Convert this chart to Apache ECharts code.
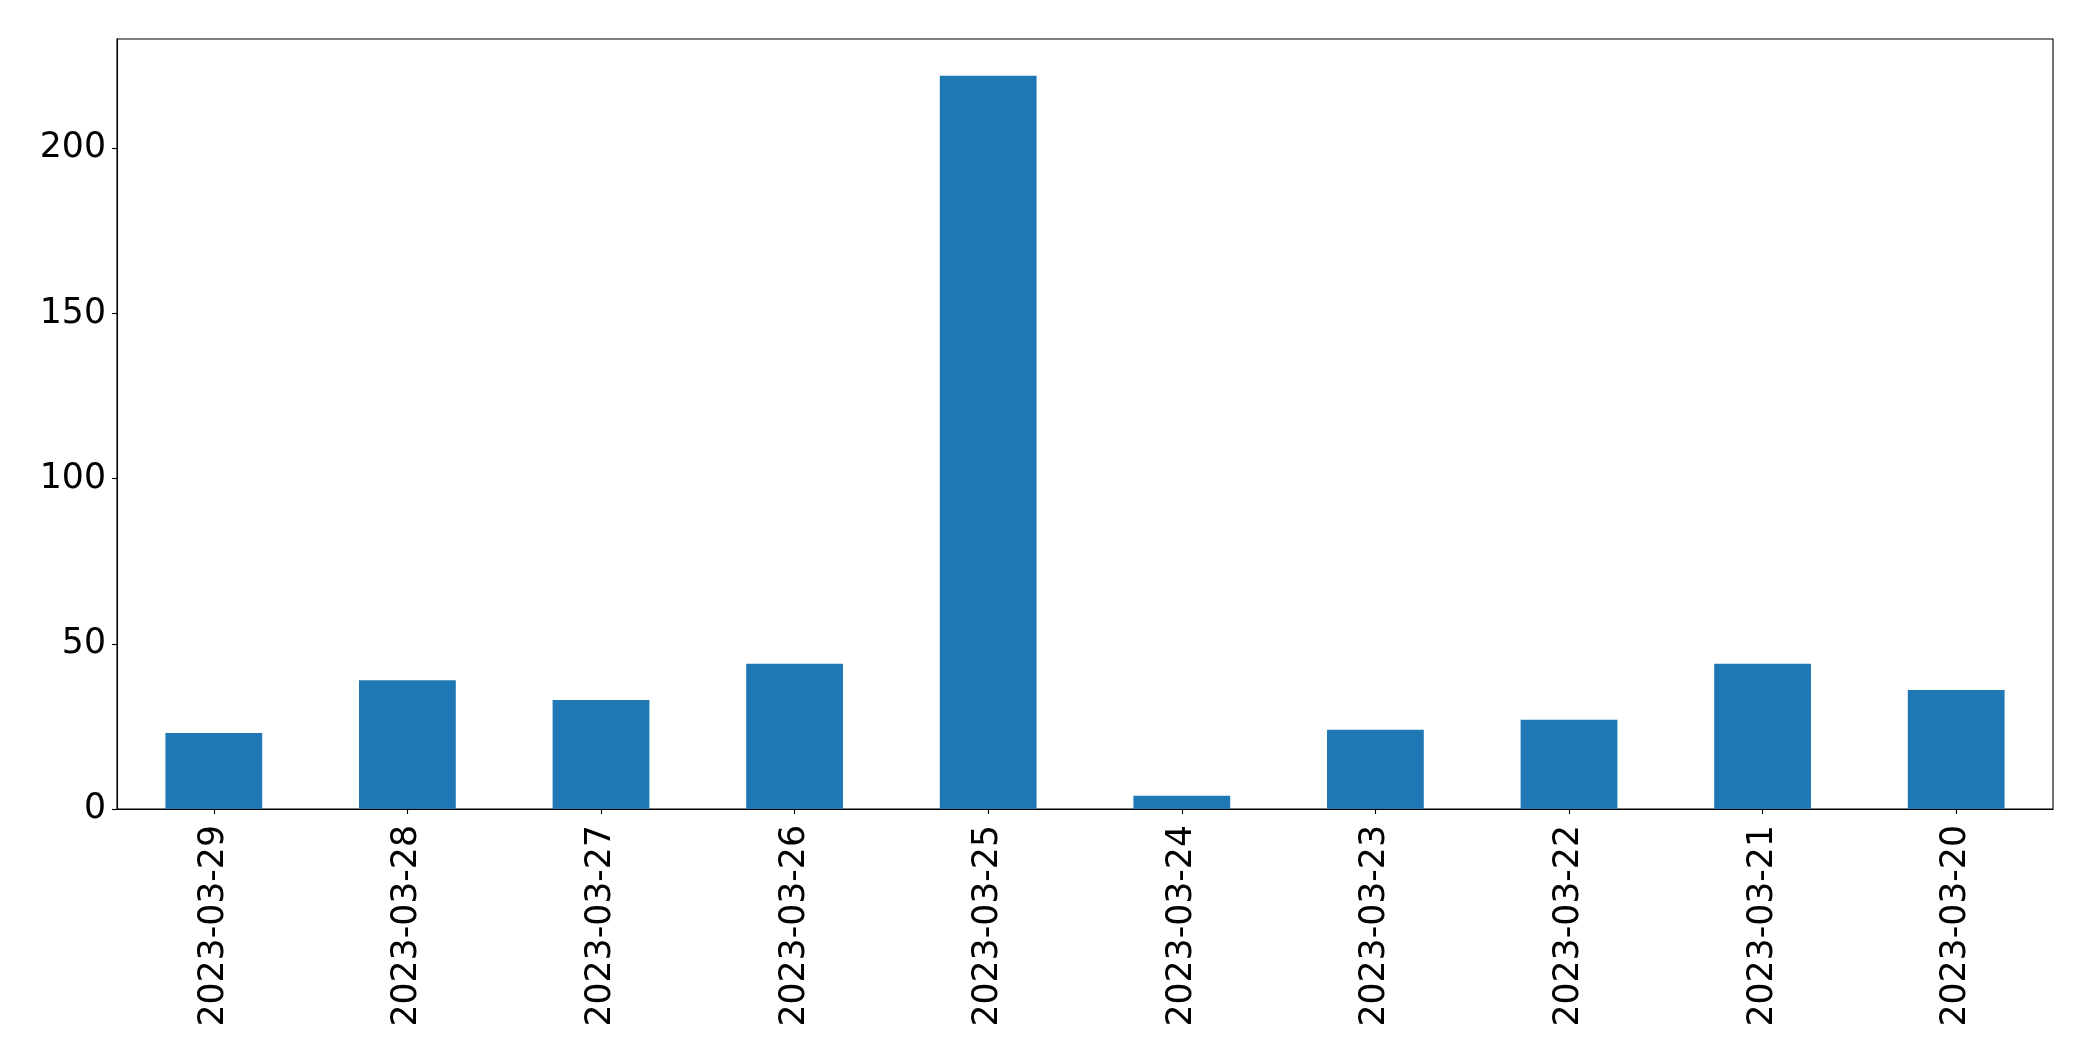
<!DOCTYPE html>
<html>
<head>
<meta charset="utf-8">
<script src="https://cdn.jsdelivr.net/npm/echarts@6/dist/echarts.min.js"></script>
<style>
html,body{margin:0;padding:0;background:#fff;}
#chart{width:2093px;height:1061px;}
</style>
</head>
<body>
<div id="chart"></div>
<script>
const categories = ["2023-03-29","2023-03-28","2023-03-27","2023-03-26","2023-03-25","2023-03-24","2023-03-23","2023-03-22","2023-03-21","2023-03-20"];
const values = [23, 39, 33, 44, 222, 4, 24, 27, 44, 36];
const yTicks = [0, 50, 100, 150, 200];

const chart = echarts.init(document.getElementById('chart'), null, {renderer: 'canvas'});
const font = 'DejaVu Sans';
chart.setOption({
  animation: false,
  backgroundColor: '#ffffff',
  grid: {left: 117, right: 40, top: 39, bottom: 252, show: true, borderColor: '#000', borderWidth: 1.1, backgroundColor: 'transparent'},
  xAxis: {
    type: 'category',
    data: categories,
    axisLine: {show: true, lineStyle: {color: '#000', width: 1.1}},
    axisTick: {show: true, alignWithLabel: true, length: 5, lineStyle: {color: '#000', width: 1.1}},
    axisLabel: {rotate: 90, margin: 16, color: '#000', fontFamily: font, fontSize: 34.7, interval: 0},
    splitLine: {show: false}
  },
  yAxis: {
    type: 'value',
    min: 0,
    max: 233.1,
    interval: 50,
    axisLine: {show: true, lineStyle: {color: '#000', width: 1.1}},
    axisTick: {show: true, length: 5, lineStyle: {color: '#000', width: 1.1}, customValues: yTicks},
    axisLabel: {margin: 11, color: '#000', fontFamily: font, fontSize: 34.7, customValues: yTicks},
    splitLine: {show: false}
  },
  series: [{
    type: 'bar',
    data: values,
    barWidth: '50%',
    itemStyle: {color: '#1f77b4'}
  }]
});
</script>
</body>
</html>
